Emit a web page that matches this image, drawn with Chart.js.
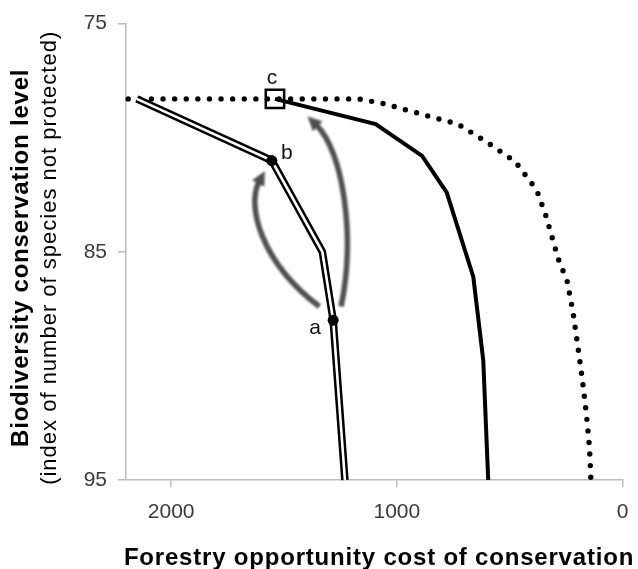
<!DOCTYPE html>
<html>
<head>
<meta charset="utf-8">
<script src="https://cdn.jsdelivr.net/npm/chart.js@4.4.1/dist/chart.umd.min.js"></script>
<style>
  html, body { margin: 0; padding: 0; background: #fff; }
  #wrap { width: 638px; height: 569px; position: relative; }
</style>
</head>
<body>
<div id="wrap"><canvas id="frontier"></canvas></div>
<script>
// x = forestry opportunity cost, y = biodiversity index (both axes reversed)
const dottedCost = [2190, 1170, 1060, 880, 730, 600, 475, 380, 340, 285, 245, 220, 197, 178, 160, 146, 140];
const dottedLevel = [78.3, 78.3, 78.5, 79.0, 79.4, 80.2, 81.05, 82.3, 83.4, 85.3, 86.3, 87.6, 89.2, 90.6, 92.1, 93.6, 95];
const solidCost = [1540, 1094, 888, 779, 661, 617, 595];
const solidLevel = [78.3, 79.4, 80.8, 82.4, 86.1, 89.75, 95];
const doubleCost = [2152, 1554, 1330, 1282, 1230];
const doubleLevel = [78.3, 81.0, 85.0, 88.0, 95];
const pointNames = ["a", "b"];
const pointCost = [1282, 1554];
const pointLevel = [88.0, 81.0];
const boxNames = ["c"];
const boxCost = [1540];
const boxLevel = [78.3];
const costTicks = [0, 1000, 2000];
const levelTicks = [75, 85, 95];
// grey curved arrows: start, control 1, control 2, end
const arrowLeftCost = [1343, 1602, 1667, 1610];
const arrowLeftLevel = [87.4, 85.47, 82.98, 81.93];
const arrowRightCost = [1247, 1182, 1238, 1357];
const arrowRightLevel = [87.4, 84.29, 80.57, 79.44];

const xTitle = "Forestry opportunity cost of conservation";
const yTitle = "Biodiversity conservation level";
const ySubtitle = "(index of number of species not protected)";

const axisGrey = "#bcbcbc";
const tickFont = { family: "'Liberation Sans', Arial, sans-serif", size: 21 };

const pts = (xs, ys) => xs.map((x, i) => ({ x: x, y: ys[i] }));

// label offsets (px) next to the marked points
const labelOffsets = { a: [-18, 8], b: [15, -7], c: [-3, -21] };

const arrowPlugin = {
  id: "arrows",
  beforeDatasetsDraw(chart) {
    const ctx = chart.ctx;
    const xs = chart.scales.x, ys = chart.scales.y;
    [[arrowLeftCost, arrowLeftLevel], [arrowRightCost, arrowRightLevel]].forEach(([cx, cy]) => {
      const p = cx.map((v, i) => [xs.getPixelForValue(v), ys.getPixelForValue(cy[i])]);
      ctx.save();
      ctx.filter = "blur(1px)";
      ctx.strokeStyle = "rgba(65,65,65,0.92)";
      ctx.fillStyle = "rgba(65,65,65,0.92)";
      ctx.lineWidth = 5.5;
      ctx.lineCap = "butt";
      ctx.beginPath();
      ctx.moveTo(p[0][0], p[0][1]);
      ctx.bezierCurveTo(p[1][0], p[1][1], p[2][0], p[2][1], p[3][0], p[3][1]);
      ctx.stroke();
      // head along end tangent
      let dx = p[3][0] - p[2][0], dy = p[3][1] - p[2][1];
      const len = Math.hypot(dx, dy);
      dx /= len; dy /= len;
      const tipX = p[3][0] + dx * 12, tipY = p[3][1] + dy * 12;
      const bx = p[3][0] - dx * 2, by = p[3][1] - dy * 2;
      ctx.beginPath();
      ctx.moveTo(tipX, tipY);
      ctx.lineTo(bx - dy * 7, by + dx * 7);
      ctx.lineTo(bx + dy * 7, by - dx * 7);
      ctx.closePath();
      ctx.fill();
      ctx.restore();
    });
  }
};

const textPlugin = {
  id: "texts",
  afterDatasetsDraw(chart) {
    const ctx = chart.ctx;
    const xs = chart.scales.x, ys = chart.scales.y;
    const area = chart.chartArea;
    ctx.save();
    ctx.fillStyle = "#111";
    ctx.font = "21px 'Liberation Sans', Arial, sans-serif";
    ctx.textAlign = "center";
    ctx.textBaseline = "middle";
    const names = pointNames.concat(boxNames);
    const cs = pointCost.concat(boxCost);
    const ls = pointLevel.concat(boxLevel);
    names.forEach((n, i) => {
      const off = labelOffsets[n];
      ctx.fillText(n, xs.getPixelForValue(cs[i]) + off[0], ys.getPixelForValue(ls[i]) + off[1]);
    });

    // axis titles
    ctx.fillStyle = "#000";
    ctx.textBaseline = "alphabetic";
    ctx.letterSpacing = "0.8px";
    ctx.font = "bold 24px 'Liberation Sans', Arial, sans-serif";
    ctx.fillText(xTitle, 379, area.bottom + 85);

    const midY = (area.top + area.bottom) / 2 + 6;
    ctx.save();
    ctx.translate(28, midY);
    ctx.rotate(-Math.PI / 2);
    ctx.fillText(yTitle, 0, 0);
    ctx.restore();

    ctx.save();
    ctx.letterSpacing = "1px";
    ctx.font = "22px 'Liberation Sans', Arial, sans-serif";
    ctx.translate(56, midY);
    ctx.rotate(-Math.PI / 2);
    ctx.fillText(ySubtitle, 0, 0);
    ctx.restore();
    ctx.restore();
  }
};

new Chart(document.getElementById("frontier"), {
  type: "scatter",
  data: {
    datasets: [
      {
        label: "points",
        data: pts(pointCost, pointLevel),
        showLine: false,
        pointRadius: 5.5,
        pointBackgroundColor: "#000",
        pointBorderWidth: 0,
        order: 0,
      },
      {
        label: "box",
        data: pts(boxCost, boxLevel),
        showLine: false,
        pointStyle: "rect",
        pointRadius: 13,
        pointBorderWidth: 2.5,
        pointBorderColor: "#000",
        pointBackgroundColor: "rgba(0,0,0,0)",
        order: 1,
      },
      {
        label: "double core",
        data: pts(doubleCost, doubleLevel),
        showLine: true,
        borderColor: "#fff",
        borderWidth: 2.6,
        pointRadius: 0,
        borderJoinStyle: "miter",
        clip: false,
        order: 2,
      },
      {
        label: "double outline",
        data: pts(doubleCost, doubleLevel),
        showLine: true,
        borderColor: "#000",
        borderWidth: 7.6,
        pointRadius: 0,
        borderJoinStyle: "miter",
        clip: false,
        order: 3,
      },
      {
        label: "solid",
        data: pts(solidCost, solidLevel),
        showLine: true,
        borderColor: "#000",
        borderWidth: 4,
        pointRadius: 0,
        clip: false,
        order: 4,
      },
      {
        label: "dotted",
        data: pts(dottedCost, dottedLevel),
        showLine: true,
        borderColor: "#000",
        borderWidth: 5.4,
        borderDash: [0, 11.6],
        borderCapStyle: "round",
        pointRadius: 0,
        clip: false,
        order: 5,
      },
    ],
  },
  options: {
    responsive: true,
    maintainAspectRatio: false,
    animation: false,
    events: [],
    layout: { padding: { top: 22, right: 10, left: 0, bottom: 0 } },
    plugins: { legend: { display: false }, tooltip: { enabled: false } },
    scales: {
      x: {
        type: "linear",
        reverse: true,
        min: 0,
        max: 2200,
        afterBuildTicks: (s) => { s.ticks = costTicks.map((v) => ({ value: v })); },
        afterFit: (s) => { s.height = 89; s.paddingLeft = 0; s.paddingRight = 0; },
        ticks: { font: tickFont, color: "#3a3a3a", padding: 13, maxRotation: 0, callback: (v) => String(v) },
        grid: { display: true, drawOnChartArea: false, drawTicks: true, tickLength: 7, color: axisGrey, lineWidth: 1.5 },
        border: { color: axisGrey, width: 1.5 },
      },
      y: {
        type: "linear",
        reverse: true,
        min: 75,
        max: 95,
        afterBuildTicks: (s) => { s.ticks = levelTicks.map((v) => ({ value: v })); },
        afterFit: (s) => { s.width = 126; },
        ticks: { font: tickFont, color: "#3a3a3a", padding: 11, callback: (v) => String(v) },
        grid: { display: true, drawOnChartArea: false, drawTicks: true, tickLength: 8, color: axisGrey, lineWidth: 1.5 },
        border: { color: axisGrey, width: 1.5 },
      },
    },
  },
  plugins: [arrowPlugin, textPlugin],
});
</script>
</body>
</html>
